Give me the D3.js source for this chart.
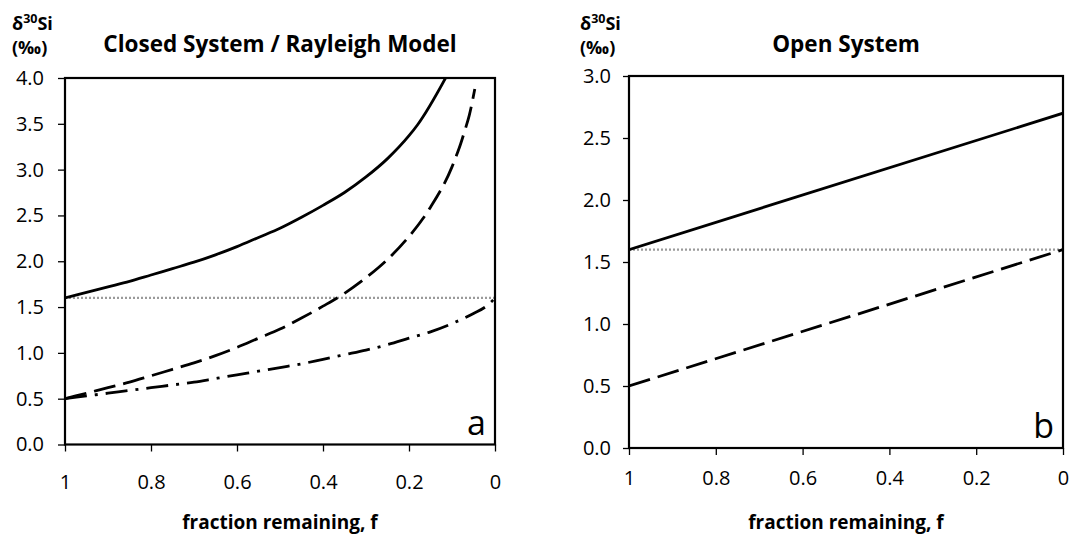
<!DOCTYPE html>
<html>
<head>
<meta charset="utf-8">
<script src="https://cdn.jsdelivr.net/npm/d3@7"></script>
<style>
  body { margin: 0; background: #fff; }
  svg { display: block; }
  text { font-family: "Open Sans", sans-serif; fill: #000; }
</style>
</head>
<body>
<svg id="chart" width="1071" height="534"></svg>
<script>
// ---- Closed system / Rayleigh model (panel a) ----
// residual dissolved Si (solid)
const residualF      = [1, 0.95, 0.9, 0.85, 0.8, 0.75, 0.7, 0.65, 0.6, 0.55, 0.5, 0.45, 0.4, 0.35, 0.3, 0.25, 0.2, 0.18, 0.1];
const residualDelta  = [1.60, 1.66, 1.72, 1.78, 1.85, 1.92, 1.99, 2.07, 2.16, 2.26, 2.36, 2.48, 2.61, 2.75, 2.92, 3.12, 3.37, 3.49, 4.13];
// instantaneous product (dashed)
const instantF       = [1, 0.95, 0.9, 0.85, 0.8, 0.75, 0.7, 0.65, 0.6, 0.55, 0.5, 0.45, 0.4, 0.35, 0.3, 0.25, 0.2, 0.15, 0.1, 0.09, 0.08, 0.07, 0.06, 0.047];
const instantDelta   = [0.50, 0.56, 0.62, 0.68, 0.75, 0.82, 0.89, 0.97, 1.06, 1.16, 1.26, 1.38, 1.51, 1.65, 1.82, 2.02, 2.27, 2.59, 3.03, 3.15, 3.28, 3.43, 3.59, 3.88];
// accumulated product (dash-dot)
const accumF         = [1, 0.95, 0.9, 0.85, 0.8, 0.75, 0.7, 0.65, 0.6, 0.55, 0.5, 0.45, 0.4, 0.35, 0.3, 0.25, 0.2, 0.15, 0.1, 0.05, 0.02, 0.01, 0];
const accumDelta     = [0.50, 0.53, 0.56, 0.59, 0.62, 0.65, 0.68, 0.72, 0.76, 0.80, 0.84, 0.88, 0.93, 0.98, 1.03, 1.09, 1.16, 1.23, 1.32, 1.43, 1.51, 1.55, 1.60];

// ---- Open system (panel b) ----
const openF          = [1, 0];
const openResidual   = [1.60, 2.70];
const openProduct    = [0.50, 1.60];

// initial seawater value (dotted reference)
const initialDelta   = 1.6;

// axis ticks
const fractionTicks  = [1, 0.8, 0.6, 0.4, 0.2, 0];
const closedYTicks   = [0, 0.5, 1, 1.5, 2, 2.5, 3, 3.5, 4];
const openYTicks     = [0, 0.5, 1, 1.5, 2, 2.5, 3];

const svg = d3.select("#chart");
const zip = (xs, ys) => xs.map((x, i) => ({ f: x, v: ys[i] }));

const dashStyles = {
  solid:   null,
  dashed:  "22,8",
  dashdot: "22,8,3,8"
};

function drawPanel(p, idx) {
  const x = d3.scaleLinear().domain([1, 0]).range([p.left, p.right]);
  const y = d3.scaleLinear().domain([0, p.yMax]).range([p.bottom, p.top]);
  const g = svg.append("g");

  const clipId = "clip" + idx;
  svg.append("clipPath").attr("id", clipId)
    .append("rect")
    .attr("x", p.left).attr("y", p.top)
    .attr("width", p.right - p.left).attr("height", p.bottom - p.top);

  // y axis
  const yAxis = g.append("g")
    .attr("transform", `translate(${p.left},0)`)
    .call(d3.axisLeft(y).tickValues(p.yTicks).tickFormat(d3.format(".1f"))
      .tickSize(p.yTickSize).tickSizeOuter(0).tickPadding(p.yTickPad));
  yAxis.select(".domain").remove();
  yAxis.selectAll("line").attr("stroke", "#000").attr("stroke-width", 1.3);
  yAxis.selectAll("text").attr("font-size", 20).attr("font-family", "Open Sans").attr("fill", "#000");

  // x axis
  const xAxis = g.append("g")
    .attr("transform", `translate(0,${p.bottom})`)
    .call(d3.axisBottom(x).tickValues(fractionTicks).tickFormat(d => String(d))
      .tickSize(7).tickSizeOuter(0).tickPadding(p.xTickPad));
  xAxis.select(".domain").remove();
  xAxis.selectAll("line").attr("stroke", "#000").attr("stroke-width", 1.3);
  xAxis.selectAll("text").attr("font-size", 20).attr("font-family", "Open Sans").attr("fill", "#000");

  // dotted reference line
  g.append("line")
    .attr("x1", x(1)).attr("x2", x(0))
    .attr("y1", y(initialDelta)).attr("y2", y(initialDelta))
    .attr("stroke", "#9a9a9a").attr("stroke-width", 2.2)
    .attr("stroke-dasharray", "2,2");

  // model curves
  const line = d3.line().curve(d3.curveMonotoneX).x(d => x(d.f)).y(d => y(d.v));
  const curves = g.append("g").attr("clip-path", `url(#${clipId})`);
  p.series.forEach(s => {
    curves.append("path")
      .attr("d", line(s.data))
      .attr("fill", "none")
      .attr("stroke", "#000")
      .attr("stroke-width", 2.8)
      .attr("stroke-linejoin", "round")
      .attr("stroke-dasharray", dashStyles[s.style]);
  });

  // plot frame
  g.append("rect")
    .attr("x", p.left).attr("y", p.top)
    .attr("width", p.right - p.left).attr("height", p.bottom - p.top)
    .attr("fill", "none").attr("stroke", "#000").attr("stroke-width", 2.2);

  // panel letter
  g.append("text")
    .attr("x", p.right - 9).attr("y", p.bottom - 10)
    .attr("text-anchor", "end")
    .attr("font-size", 34)
    .text(p.letter);

  // title
  g.append("text")
    .attr("x", (p.left + p.right) / 2).attr("y", 52)
    .attr("text-anchor", "middle")
    .attr("font-size", 22.5).attr("font-weight", "bold")
    .text(p.title);

  // y axis label
  const yl = g.append("text")
    .attr("x", p.yLabelX).attr("y", 30)
    .attr("font-size", 18).attr("font-weight", "bold");
  yl.append("tspan").text("δ");
  yl.append("tspan").attr("dy", -7).attr("font-size", 12.5).text("30");
  yl.append("tspan").attr("dy", 7).text("Si");
  g.append("text")
    .attr("x", p.yLabelX).attr("y", 54)
    .attr("font-size", 18).attr("font-weight", "bold")
    .text("(‰)");

  // x axis label
  g.append("text")
    .attr("x", (p.left + p.right) / 2).attr("y", 529)
    .attr("text-anchor", "middle")
    .attr("font-size", 19).attr("font-weight", "bold")
    .text("fraction remaining, f");
}

const panels = [
  {
    left: 65, right: 495, top: 78, bottom: 444.5,
    yMax: 4, yTicks: closedYTicks, yTickSize: 7, yTickPad: 14, xTickPad: 23,
    title: "Closed System / Rayleigh Model", letter: "a", yLabelX: 12,
    series: [
      { style: "solid",   data: zip(residualF, residualDelta) },
      { style: "dashed",  data: zip(instantF, instantDelta) },
      { style: "dashdot", data: zip(accumF, accumDelta) }
    ]
  },
  {
    left: 629, right: 1063, top: 76, bottom: 448,
    yMax: 3, yTicks: openYTicks, yTickSize: 6, yTickPad: 12, xTickPad: 16,
    title: "Open System", letter: "b", yLabelX: 580,
    series: [
      { style: "solid",  data: zip(openF, openResidual) },
      { style: "dashed", data: zip(openF, openProduct) }
    ]
  }
];

panels.forEach(drawPanel);
</script>
</body>
</html>
